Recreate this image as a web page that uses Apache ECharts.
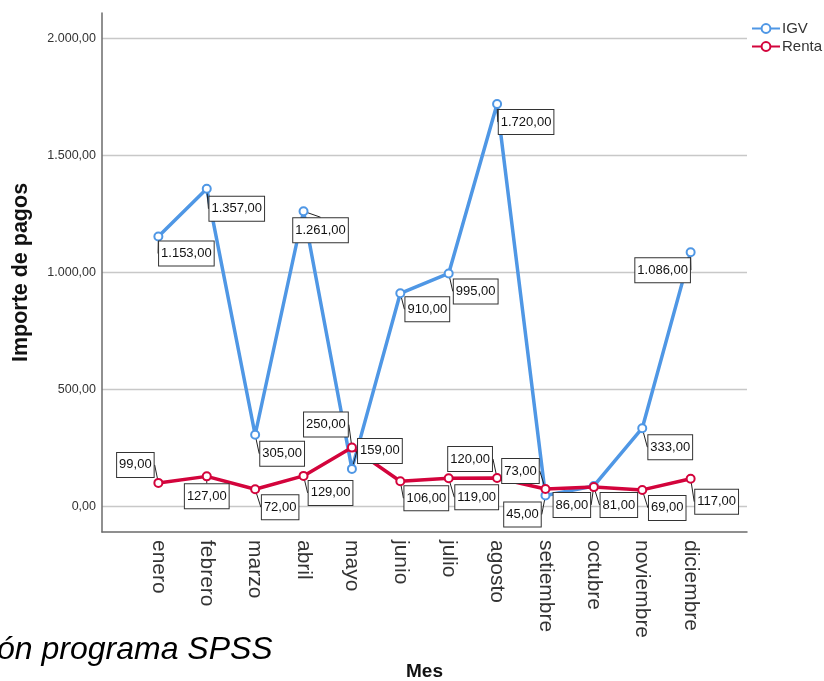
<!DOCTYPE html>
<html>
<head>
<meta charset="utf-8">
<script src="https://cdn.jsdelivr.net/npm/echarts@6/dist/echarts.min.js"></script>
<style>
html,body{margin:0;padding:0;background:#fff;}
#chart{width:824px;height:681px;}
</style>
</head>
<body>
<div id="chart"></div>
<script>
const months = ['enero','febrero','marzo','abril','mayo','junio','julio','agosto','setiembre','octubre','noviembre','diciembre'];
const igv = [1153,1357,305,1261,159,910,995,1720,45,86,333,1086];
const renta = [99,127,72,129,250,106,119,120,73,81,69,117];
const yTicks = [0,500,1000,1500,2000];
const seriesNames = ['IGV','Renta'];

// label box shifts (presentation only)
const igvLabelShift = [[28,17],[30,20],[27,19],[17,19],[28,-18],[27,16],[27,18],[29,18],[-23,19],[-22,19],[28,19],[-28,18]];
const rentaLabelShift = [[-23,-18],[0,20],[25,18],[27,17],[-26,-23],[26,17],[28,19],[-27,-19],[-25,-18],[25,18],[25,18],[26,23]];

function fmt(v){
  const s = Math.round(v).toString().replace(/\B(?=(\d{3})+(?!\d))/g,'.');
  return s + ',00';
}

const FONT = "'Liberation Sans', Arial, sans-serif";
const axisColor = '#6b6b6b';

const labelStyle = {
  show: true,
  position: 'inside',
  formatter: p => fmt(p.value[1]),
  fontFamily: FONT,
  fontSize: 13,
  color: '#111',
  backgroundColor: '#fff',
  borderColor: '#333',
  borderWidth: 1,
  padding: [6,2,5,2]
};

function mkSeries(name, vals, color){
  return {
    name: name,
    type: 'line',
    data: vals.map((v,i)=>[i,v]),
    symbol: 'emptyCircle',
    symbolSize: 8,
    lineStyle: {color: color, width: 3.5},
    itemStyle: {color: color, borderColor: color, borderWidth: 1.5},
    label: labelStyle,
    labelLine: {show: true, lineStyle: {color: '#222', width: 1}},
    emphasis: {disabled: true},
    animation: false
  };
}

const chart = echarts.init(document.getElementById('chart'));
chart.setOption({
  animation: false,
  backgroundColor: '#fff',
  title: [{
    text: 'ón programa SPSS',
    left: -3, top: 633, padding: 0,
    textStyle: {fontFamily: FONT, fontStyle: 'italic', fontWeight: 'normal', fontSize: 32, lineHeight: 35, color: '#000'}
  }],
  legend: {
    data: seriesNames,
    orient: 'vertical',
    left: 746, top: 16,
    itemGap: 3,
    itemWidth: 28, itemHeight: 11,
    textStyle: {fontFamily: FONT, fontSize: 15, color: '#333', padding: [0,0,0,-3]}
  },
  grid: {left: 102, right: 77, top: 13, bottom: 149, containLabel: false, outerBoundsMode: 'none'},
  xAxis: {
    type: 'value',
    min: -1.165, max: 12.165,
    name: 'Mes',
    nameLocation: 'middle',
    nameGap: 130,
    nameTextStyle: {fontFamily: "'Liberation Sans Narrow', 'Arial Narrow', " + FONT, fontWeight: 'bold', fontSize: 19, color: '#111'},
    axisLine: {show: true, onZero: false, lineStyle: {color: axisColor, width: 1.5}},
    axisTick: {show: false},
    splitLine: {show: false},
    axisLabel: {
      customValues: months.map((m,i)=>i),
      formatter: v => months[Math.round(v)],
      rotate: -90,
      margin: 8,
      fontFamily: FONT,
      fontSize: 21,
      color: '#333'
    }
  },
  yAxis: {
    type: 'value',
    min: -111, max: 2109,
    name: 'Importe de pagos',
    nameLocation: 'middle',
    nameGap: 70,
    nameTextStyle: {fontFamily: FONT, fontWeight: 'bold', fontSize: 21.5, color: '#111'},
    axisLine: {show: true, onZero: false, lineStyle: {color: axisColor, width: 1.5}},
    axisTick: {show: false, customValues: yTicks},
    splitLine: {show: true, lineStyle: {color: '#c8c8c8', width: 1.3}},
    axisLabel: {
      customValues: yTicks,
      formatter: v => fmt(v),
      margin: 6,
      fontFamily: FONT,
      fontSize: 12.5,
      color: '#333'
    }
  },
  labelLayout: function(p){
    const s = p.seriesIndex === 0 ? igvLabelShift : rentaLabelShift;
    const d = s[p.dataIndex];
    return {dx: d[0], dy: d[1]};
  },
  series: [
    mkSeries(seriesNames[0], igv, '#4f97e5'),
    mkSeries(seriesNames[1], renta, '#d3043c')
  ]
});
</script>
</body>
</html>
